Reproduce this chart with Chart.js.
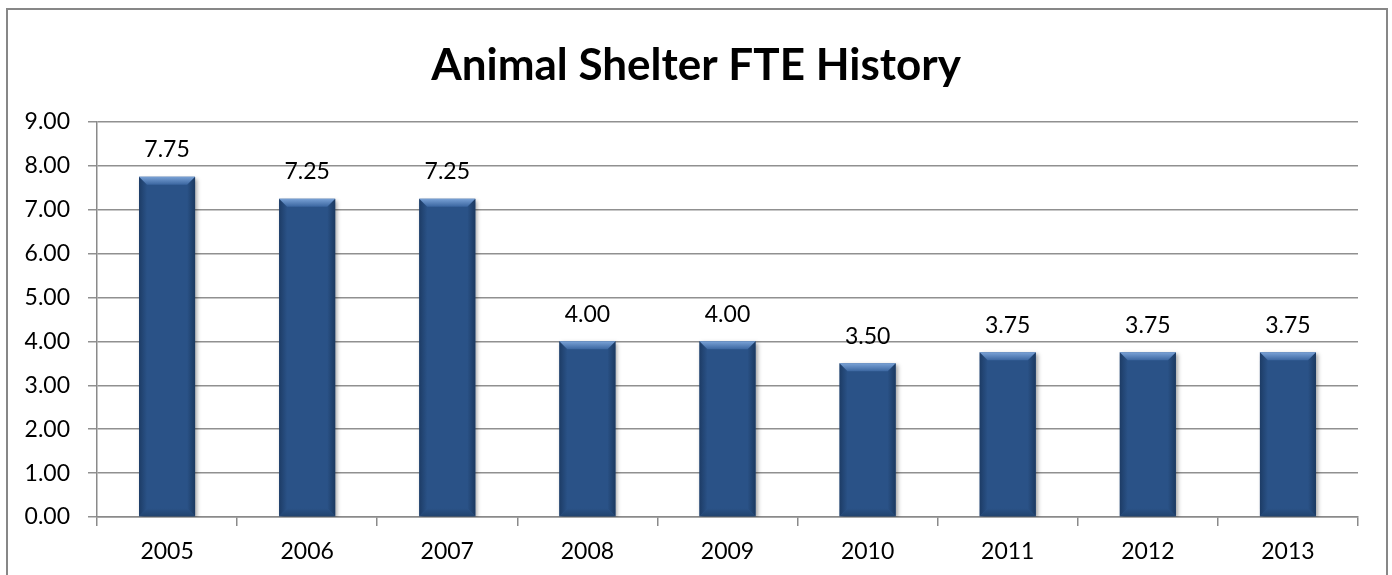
<!DOCTYPE html>
<html>
<head>
<meta charset="utf-8">
<script src="https://cdn.jsdelivr.net/npm/chart.js@4.4.0/dist/chart.umd.min.js"></script>
<style>
  html, body { margin:0; padding:0; background:#fff; overflow:hidden; width:1392px; height:575px; }
  #frame { position:absolute; left:6px; top:8px; width:1382px; height:620px; box-sizing:border-box; border:2px solid #878787; }
  #wrap { position:absolute; left:0; top:0; width:1392px; height:575px; }
</style>
</head>
<body>
<div id="frame"></div>
<div id="wrap"><canvas id="c" width="1392" height="575"></canvas></div>
<script>
const categories = ["2005","2006","2007","2008","2009","2010","2011","2012","2013"];
const fteValues = [7.75, 7.25, 7.25, 4.00, 4.00, 3.50, 3.75, 3.75, 3.75];
const titleText = "Animal Shelter FTE History";
const yMin = 0, yMax = 9, yStep = 1;

const FONT = "Lato, 'Open Sans', sans-serif";

const shadowPlugin = {
  id: 'barShadow',
  beforeDatasetsDraw(chart) {
    const ctx = chart.ctx;
    ctx.save();
    ctx.shadowColor = 'rgba(0,0,0,0.35)';
    ctx.shadowBlur = 4;
    ctx.shadowOffsetX = 2;
    ctx.shadowOffsetY = 2;
  },
  afterDatasetsDraw(chart) {
    const ctx = chart.ctx;
    ctx.restore();
    const meta = chart.getDatasetMeta(0);
    const b = 8;
    meta.data.forEach((bar, i) => {
      const w = bar.width;
      const l = bar.x - w / 2, r = bar.x + w / 2;
      const t = bar.y, bt = bar.base;
      ctx.save();
      let g = ctx.createLinearGradient(l, 0, l + b, 0);
      g.addColorStop(0, '#1d3c66'); g.addColorStop(1, '#2a5287');
      ctx.fillStyle = g;
      ctx.beginPath(); ctx.moveTo(l, t); ctx.lineTo(l + b, t + b); ctx.lineTo(l + b, bt - b); ctx.lineTo(l, bt); ctx.closePath(); ctx.fill();
      g = ctx.createLinearGradient(r - b, 0, r, 0);
      g.addColorStop(0, '#2a5287'); g.addColorStop(1, '#1b3960');
      ctx.fillStyle = g;
      ctx.beginPath(); ctx.moveTo(r, t); ctx.lineTo(r - b, t + b); ctx.lineTo(r - b, bt - b); ctx.lineTo(r, bt); ctx.closePath(); ctx.fill();
      g = ctx.createLinearGradient(0, bt - b, 0, bt);
      g.addColorStop(0, '#2a5287'); g.addColorStop(1, '#22446f');
      ctx.fillStyle = g;
      ctx.beginPath(); ctx.moveTo(l, bt); ctx.lineTo(l + b, bt - b); ctx.lineTo(r - b, bt - b); ctx.lineTo(r, bt); ctx.closePath(); ctx.fill();
      g = ctx.createLinearGradient(0, t, 0, t + b);
      g.addColorStop(0, '#7aa2d6'); g.addColorStop(1, '#3b66a0');
      ctx.fillStyle = g;
      ctx.beginPath(); ctx.moveTo(l, t); ctx.lineTo(r, t); ctx.lineTo(r - b, t + b); ctx.lineTo(l + b, t + b); ctx.closePath(); ctx.fill();
      ctx.restore();
      ctx.save();
      ctx.font = "23px " + FONT;
      ctx.fillStyle = '#000';
      ctx.textAlign = 'center';
      ctx.textBaseline = 'middle';
      ctx.fillText(fteValues[i].toFixed(2), bar.x, t - 27);
      ctx.restore();
    });
  }
};

new Chart(document.getElementById('c'), {
  type: 'bar',
  data: {
    labels: categories,
    datasets: [{
      data: fteValues,
      backgroundColor: '#2a5287',
      borderWidth: 0,
      categoryPercentage: 1.0,
      barPercentage: 0.4
    }]
  },
  options: {
    responsive: false,
    animation: false,
    devicePixelRatio: 1,
    layout: { padding: 0 },
    plugins: {
      legend: { display: false },
      tooltip: { enabled: false },
      title: {
        display: true,
        text: titleText,
        color: '#000',
        font: { family: FONT, size: 44, weight: 'bold' },
        padding: { top: 39, bottom: 30 }
      }
    },
    scales: {
      x: {
        grid: { drawOnChartArea: false, drawTicks: true, tickLength: 9, color: '#8a8a8a', lineWidth: 1.5, offset: true },
        border: { display: true, color: '#8a8a8a', width: 1.5 },
        ticks: { color: '#000', font: { family: FONT, size: 23 }, padding: 12, maxRotation: 0 },
        afterFit(s) { s.height = 58; }
      },
      y: {
        min: yMin, max: yMax,
        grid: { color: '#909090', lineWidth: 1.5, tickLength: 9, drawTicks: true },
        border: { display: true, color: '#8a8a8a', width: 1.5 },
        ticks: { stepSize: yStep, color: '#000', font: { family: FONT, size: 23 }, padding: 18,
          callback: v => Number(v).toFixed(2) },
        afterFit(s) { s.width = 97; }
      },
      yRight: {
        position: 'right',
        min: yMin, max: yMax,
        grid: { display: false },
        border: { display: false },
        ticks: { display: false },
        afterFit(s) { s.width = 34; }
      }
    }
  },
  plugins: [shadowPlugin]
});
</script>
</body>
</html>
